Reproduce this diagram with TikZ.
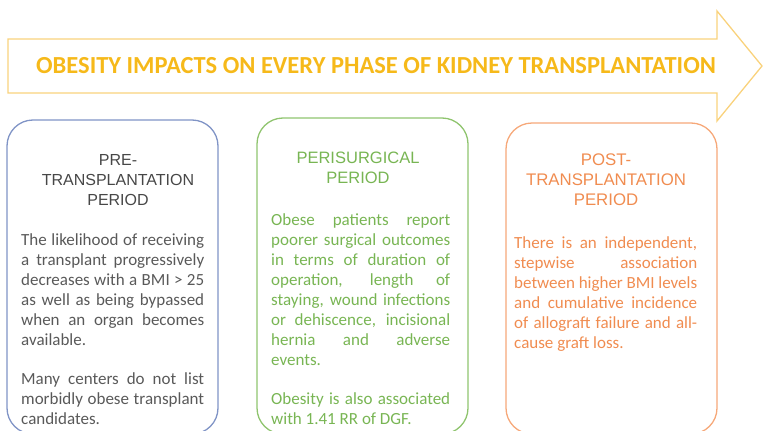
\documentclass[tikz,border=0pt]{standalone}
\usepackage{fontspec}
\setmainfont{Carlito}
\newfontfamily\headfont{Liberation Sans}
\usepackage{xcolor}
\usetikzlibrary{positioning}
\definecolor{gold}{HTML}{F6B91A}
\definecolor{goldline}{HTML}{F9D27C}
\definecolor{preline}{HTML}{8094C6}
\definecolor{prehead}{HTML}{474747}
\definecolor{pretext}{HTML}{595959}
\definecolor{periline}{HTML}{8FC46E}
\definecolor{peritext}{HTML}{78B553}
\definecolor{postline}{HTML}{F6A879}
\definecolor{posttext}{HTML}{F08C50}

\begin{document}
\begin{tikzpicture}[x=1pt,y=-1pt,
	phase/.style={draw,line width=1.3pt,rounded corners=26pt,minimum width=211pt,inner sep=0pt},
	heading/.style={font=\headfont\fontsize{#1}{20}\selectfont,align=center,inner sep=0pt},
	heading/.default=16,
	body/.style={font=\fontsize{17}{20}\selectfont,text width=183pt,align=justify,inner sep=0pt,
		execute at begin node={\tolerance=10000\hyphenpenalty=10000}},
	title/.style={font=\bfseries\fontsize{24.5}{28}\selectfont,text=gold,inner sep=0pt}]
	\useasboundingbox (0,0) rectangle (763,431);
	
	% the big arrow
	\draw[goldline,line width=1.3pt] (8,39) -- (717,39) -- (717,11) -- (762,66) -- (717,121) -- (717,93) -- (8,93) -- cycle;
	\node[title] (title) at (376,66) {OBESITY IMPACTS ON EVERY PHASE OF KIDNEY TRANSPLANTATION};
	
	% the three periods
	\node[phase,draw=preline,minimum height=314pt] (pre) at (112.5,277) {};
	\node[phase,draw=periline,minimum height=316pt] (peri) at (362.5,276) {};
	\node[phase,draw=postline,minimum height=311pt] (post) at (611.5,278.5) {};
	
	\node[heading,text=prehead] (prehead) at (118,180) {PRE-\\TRANSPLANTATION\\PERIOD};
	\node[heading=16.5,text=peritext] (perihead) at (358,168) {PERISURGICAL\\PERIOD};
	\node[heading=16.8,text=posttext] (posthead) at (606,180) {POST-\\TRANSPLANTATION\\PERIOD};
	
	\node[body,text=pretext,anchor=north west] (pretext1) at (21,233) {The likelihood of receiving\linebreak a transplant progressively\linebreak decreases with a BMI > 25\linebreak as well as being bypassed\linebreak when an organ becomes\linebreak available.};
	\node[body,text=pretext,below=27pt of pretext1] (pretext2) {Many centers do not list\linebreak morbidly obese transplant\linebreak candidates.};
	
	\node[body,text=peritext,text width=179pt,anchor=north west] (peritext1) at (271,213) {Obese patients report\linebreak poorer surgical outcomes\linebreak in terms of duration of\linebreak operation, length of\linebreak staying, wound infections\linebreak or dehiscence, incisional\linebreak hernia and adverse\linebreak events.};
	\node[body,text=peritext,text width=179pt,below=27pt of peritext1] (peritext2) {Obesity is also associated\linebreak with 1.41 RR of DGF.};
	
	\node[body,text=posttext,anchor=north west] (posttext1) at (514,236) {There is an independent,\linebreak stepwise association\linebreak between higher BMI levels\linebreak and cumulative incidence\linebreak of allograft failure and all-\linebreak cause graft loss.};
\end{tikzpicture}
\end{document}
